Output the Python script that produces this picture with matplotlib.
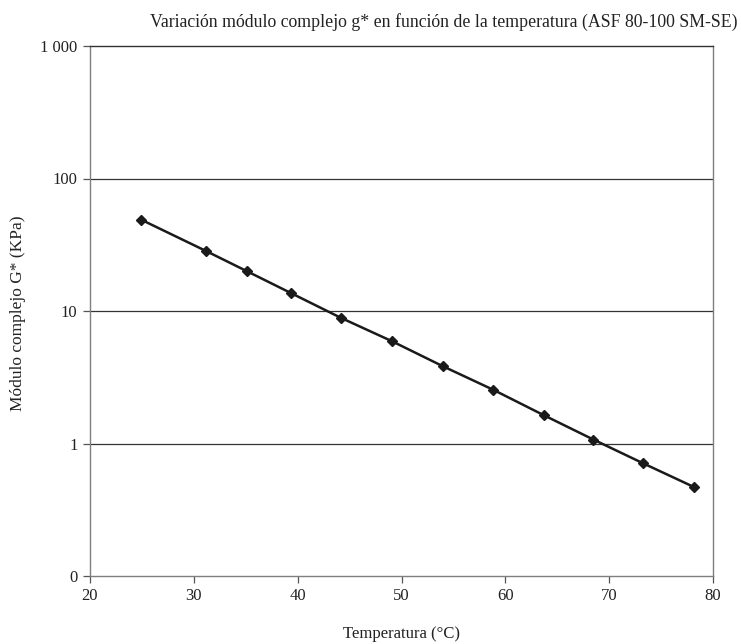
import matplotlib

matplotlib.use("Agg")
import matplotlib.pyplot as plt
from matplotlib.ticker import FixedLocator, FixedFormatter, NullLocator

# temperature (°C) and complex modulus G* (kPa)
temperatura = [24.9, 31.2, 35.15, 39.4, 44.15, 49.07, 53.98, 58.85, 63.74, 68.49, 73.25, 78.2]
modulo = [49.0, 28.3, 19.9, 13.6, 8.89, 5.92, 3.83, 2.54, 1.63, 1.07, 0.71, 0.468]

y_ticks = [0.1, 1, 10, 100, 1000]
y_labels = ["0", "1", "10", "100", "1 000"]
x_ticks = [20, 30, 40, 50, 60, 70, 80]

plt.rcParams["font.family"] = ["Liberation Serif", "DejaVu Serif"]

fig = plt.figure(figsize=(7.41, 6.44), dpi=100)
ax = fig.add_axes([90 / 741, 1 - 576 / 644, 623 / 741, 530 / 644])

ax.plot(temperatura, modulo, color="#1a1a1a", linewidth=1.8,
        marker="D", markersize=5.5, markerfacecolor="#1a1a1a",
        markeredgecolor="#1a1a1a", zorder=3)

ax.set_yscale("log")
ax.set_ylim(0.1, 1000)
ax.set_xlim(20, 80)
ax.yaxis.set_major_locator(FixedLocator(y_ticks))
ax.yaxis.set_major_formatter(FixedFormatter(y_labels))
ax.yaxis.set_minor_locator(NullLocator())
ax.set_xticks(x_ticks)

for v in [1, 10, 100]:
    ax.axhline(v, color="#333333", linewidth=0.9, zorder=1)

for side in ["left", "right", "bottom", "top"]:
    ax.spines[side].set_color("#7f7f7f")
    ax.spines[side].set_linewidth(1.0)
ax.spines["top"].set_color("#333333")

ax.tick_params(axis="both", direction="out", length=5, width=0.9,
               color="#555555", labelsize=12, labelcolor="#222222", pad=4)

ax.set_xlabel("Temperatura (°C)", fontsize=12, color="#222222")
ax.xaxis.set_label_coords(0.5, -0.095)
ax.set_ylabel("Módulo complejo G* (KPa)", fontsize=12.5, color="#222222")
ax.yaxis.set_label_coords(-0.103, 0.495)

fig.text(738 / 741, 1 - 22 / 644,
         "Variación módulo complejo g* en función de la temperatura (ASF 80-100 SM-SE)",
         ha="right", va="center", fontsize=12.8, color="#222222")

fig.savefig("out.png", dpi=100, facecolor="white")
